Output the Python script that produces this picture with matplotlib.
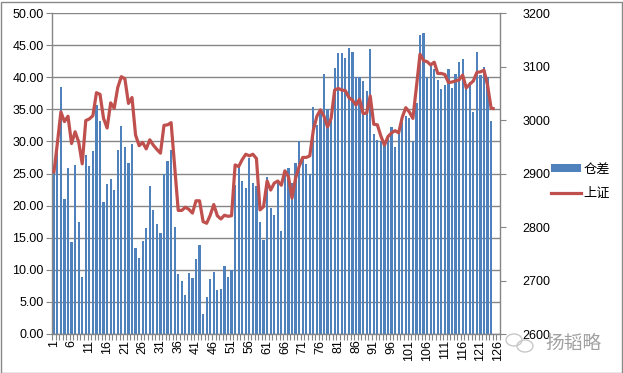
import numpy as np
import matplotlib
matplotlib.use("Agg")
import matplotlib.pyplot as plt
from matplotlib.patches import Rectangle, Ellipse
from matplotlib.lines import Line2D
from matplotlib.patches import Patch

# ---- data ----
categories = list(range(1, 127))

cangcha = [26.0, 30.0, 38.4, 21.0, 25.9, 14.4, 26.3, 17.4, 8.9, 27.9,
           26.2, 28.5, 35.7, 33.2, 20.6, 23.4, 24.2, 22.5, 28.7, 32.4,
           29.2, 26.7, 29.6, 13.4, 11.8, 14.5, 16.5, 23.1, 19.3, 17.1,
           15.8, 24.9, 27.0, 28.7, 16.7, 9.35, 8.3, 6.1, 9.5, 8.8,
           11.7, 13.9, 3.1, 5.8, 8.6, 9.6, 6.8, 7.0, 10.6, 8.9,
           10.0, 23.2, 26.1, 23.9, 22.8, 27.4, 23.5, 23.0, 17.5, 14.7,
           24.5, 19.6, 18.6, 23.6, 16.1, 24.7, 25.9, 23.5, 26.7, 30.1,
           27.8, 26.5, 24.9, 35.4, 32.6, 35.1, 40.5, 35.0, 34.0, 41.5,
           43.7, 43.7, 43.0, 44.5, 43.9, 40.0, 40.0, 39.4, 37.9, 44.4,
           31.2, 30.2, 30.0, 29.4, 31.0, 32.2, 29.1, 32.0, 33.0, 34.0,
           33.7, 30.1, 36.0, 46.5, 46.9, 40.0, 41.7, 41.2, 39.6, 38.1,
           38.8, 41.2, 38.3, 40.5, 42.3, 42.8, 38.3, 39.3, 34.6, 43.9,
           40.4, 41.6, 40.0, 33.1, np.nan, np.nan]

shangzheng = [2900, 2956, 3015, 2997, 3007, 2956, 2978, 2959, 2918, 2999,
              3002, 3008, 3051, 3048, 3003, 2985, 3032, 3022, 3061, 3081,
              3077, 3031, 3042, 2972, 2952, 2958, 2946, 2963, 2953, 2945,
              2938, 2990, 2991, 2995, 2913, 2831, 2831, 2837, 2833, 2826,
              2849, 2849, 2810, 2807, 2822, 2842, 2821, 2815, 2822, 2820,
              2821, 2916, 2913, 2926, 2936, 2933, 2936, 2928, 2832, 2838,
              2886, 2869, 2882, 2886, 2878, 2905, 2894, 2854, 2891, 2913,
              2930, 2930, 2933, 2981, 3007, 3019, 3007, 2987, 3003, 3056,
              3059, 3056, 3055, 3042, 3037, 3028, 3039, 3012, 3013, 3045,
              2992, 2991, 2970, 2953, 2969, 2976, 2980, 2976, 3005, 3023,
              3015, 3003, 3062, 3123, 3111, 3109, 3103, 3108, 3087, 3087,
              3085, 3070, 3071, 3073, 3075, 3084, 3060, 3067, 3073, 3089,
              3090, 3093, 3065, 3022, 3021, np.nan]

xtick_labels = [str(i) for i in range(1, 127, 5)]
left_ticks = [0, 5, 10, 15, 20, 25, 30, 35, 40, 45, 50]
right_ticks = [2600, 2700, 2800, 2900, 3000, 3100, 3200]

BLUE = "#4F81BD"
RED = "#C0504D"
GRID = "#868686"

plt.rcParams['font.family'] = ['Liberation Sans', 'Noto Sans CJK SC', 'DejaVu Sans']

fig = plt.figure(figsize=(6.23, 3.73), dpi=100)
ax = fig.add_axes([52 / 623, 1 - 334 / 373, 448 / 623, 321 / 373])
ax2 = ax.twinx()

x = np.array(categories, dtype=float)
ax.bar(x, cangcha, width=0.64, color=BLUE, zorder=2, label="仓差")
ax.set_xlim(0.5, 126.5)
ax.set_ylim(0, 50)
ax.set_yticks(left_ticks)
ax.set_yticklabels([f"{v:.2f}" for v in left_ticks])
ax.yaxis.grid(True, color=GRID, linewidth=1.0, zorder=0)
ax.set_axisbelow(True)

ax.set_xticks([int(s) for s in xtick_labels])
ax.set_xticklabels(xtick_labels, rotation=90)
ax.set_xticks(np.arange(0.5, 127, 1), minor=True)
ax.tick_params(axis='x', which='major', length=0, pad=4, labelsize=9)
ax.tick_params(axis='x', which='minor', length=4, color=GRID, width=0.8)
ax.tick_params(axis='y', which='major', length=4, color=GRID, labelsize=9, pad=2)

for s in ['top', 'right']:
    ax.spines[s].set_visible(False)
for s in ['left', 'bottom']:
    ax.spines[s].set_color(GRID)
    ax.spines[s].set_linewidth(1.0)

ax2.plot(x, shangzheng, color=RED, linewidth=2.3, solid_joinstyle='round',
         solid_capstyle='butt', zorder=3, label="上证")
ax2.set_ylim(2600, 3200)
ax2.set_yticks(right_ticks)
ax2.set_yticklabels([str(v) for v in right_ticks])
ax2.tick_params(axis='y', length=4, color=GRID, labelsize=9, pad=12)
for s in ['top', 'left', 'bottom']:
    ax2.spines[s].set_visible(False)
ax2.spines['right'].set_color(GRID)
ax2.spines['right'].set_linewidth(1.0)

handles = [Patch(facecolor=BLUE, edgecolor='none'),
           Line2D([0], [0], color=RED, linewidth=2.3)]
leg = fig.legend(handles, ["仓差", "上证"], loc='upper left',
                 bbox_to_anchor=(551 / 623, 1 - 163 / 373), frameon=False,
                 handlelength=2.3, handleheight=0.55, handletextpad=0.15,
                 labelspacing=0.85, borderpad=0, borderaxespad=0,
                 prop={'family': ['Noto Sans CJK SC'], 'size': 9.5})

# watermark
fig.text(545 / 623, 1 - 343 / 373, "扬韬略", color="#a0a0a0", fontsize=13.5,
         family=['Noto Sans CJK SC'], va='center', ha='left')
fig.patches.append(Ellipse((514 / 623, 1 - 340 / 373), 16 / 623, 12 / 373,
                           transform=fig.transFigure, fill=False,
                           edgecolor="#c8c8c8", linewidth=1.0))
fig.patches.append(Ellipse((525 / 623, 1 - 346 / 373), 16 / 623, 12 / 373,
                           transform=fig.transFigure, fill=False,
                           edgecolor="#c8c8c8", linewidth=1.0))

# chart border
fig.patches.append(Rectangle((0.5 / 623, 0.5 / 373), 621 / 623, 371 / 373,
                             transform=fig.transFigure, fill=False,
                             edgecolor="#898989", linewidth=1.0))

fig.savefig("out.png", dpi=100)
